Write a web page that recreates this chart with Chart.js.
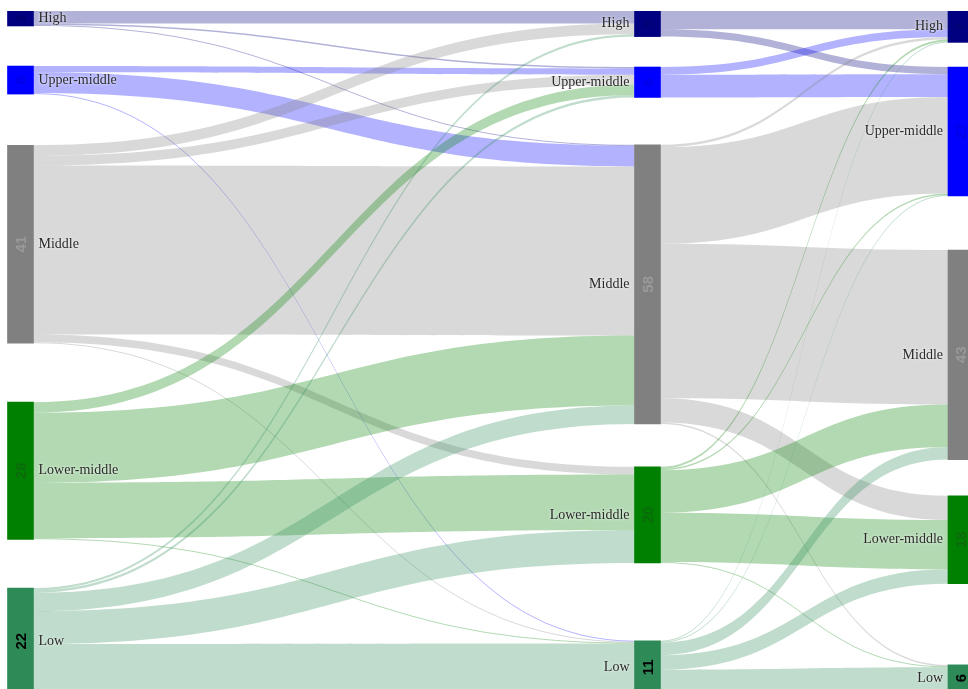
<!DOCTYPE html>
<html>
<head>
<meta charset="utf-8">
<title>Income class mobility</title>
<script src="https://cdn.jsdelivr.net/npm/chart.js@4/dist/chart.umd.min.js"></script>
<style>
  body { margin: 0; background: #fff; }
  canvas { display: block; }
</style>
</head>
<body>
<canvas id="canvas" width="968" height="689"></canvas>
<script>
const classes = ['High', 'Upper-middle', 'Middle', 'Lower-middle', 'Low'];

// flows from the first stage (rows) into the second stage (columns)
const flowsAB = [
  [2.6, 0.3, 0.2, 0, 0],
  [0, 1.3, 4.3, 0, 0.2],
  [2.2, 2, 35, 1.6, 0.2],
  [0, 2.2, 14.5, 11.5, 0.2],
  [0.5, 0.5, 3.8, 6.8, 10.4]
];

// flows from the second stage (rows) into the third stage (columns)
const flowsBC = [
  [3.8, 1.5, 0, 0, 0],
  [1.6, 4.7, 0, 0, 0],
  [0.5, 20, 32, 5, 0.3],
  [0.4, 0.3, 8.8, 10.2, 0.2],
  [0.2, 0.2, 2.6, 3, 5]
];

// layout: where each stage sits on the x axis, and the space left above each node
const stageX = [0, 2, 3];
const gaps = [
  [0, 8.3, 10.6, 12.2, 10.1],
  [0, 6.3, 9.8, 8.9, 16.1],
  [0, 5.1, 11.2, 7.5, 16.8]
];

const nodeColors = ['#000080', '#0000ff', '#808080', '#008000', '#2e8b57'];
const linkColors = ['rgba(0,0,128,0.3)', 'rgba(0,0,255,0.3)', 'rgba(128,128,128,0.3)', 'rgba(0,128,0,0.3)', 'rgba(46,139,87,0.3)'];
const numberColors = ['#000072', '#0000e6', '#999999', '#0b6b0b', '#000000'];
const NODE_W = 26;

const sum = arr => arr.reduce((a, v) => a + v, 0);
const colSum = (m, j) => m.reduce((a, row) => a + row[j], 0);

const totals = [
  flowsAB.map(row => sum(row)),
  classes.map((c, j) => colSum(flowsAB, j)),
  classes.map((c, j) => colSum(flowsBC, j))
];

// stack nodes of each stage top to bottom in value units
const tops = totals.map((col, s) => {
  let y = 0;
  return col.map((v, i) => {
    y += gaps[s][i];
    const top = y;
    y += v;
    return top;
  });
});

const datasets = classes.map((name, i) => ({
  label: name,
  data: stageX.map((x, s) => ({ x: x, y: [tops[s][i], tops[s][i] + totals[s][i]] })),
  backgroundColor: nodeColors[i],
  borderWidth: 0,
  borderSkipped: false,
  grouped: false,
  barThickness: NODE_W
}));

function drawLinks(ctx, xs, ys, matrix, s) {
  const srcOff = tops[s].slice();
  const dstOff = tops[s + 1].slice();
  const x0 = xs.getPixelForValue(stageX[s]) + NODE_W / 2;
  const x1 = xs.getPixelForValue(stageX[s + 1]) - NODE_W / 2;
  const xm = (x0 + x1) / 2;
  matrix.forEach((row, i) => {
    row.forEach((v, j) => {
      if (!v) return;
      const sy0 = ys.getPixelForValue(srcOff[i]);
      const sy1 = ys.getPixelForValue(srcOff[i] + v);
      const ty0 = ys.getPixelForValue(dstOff[j]);
      const ty1 = ys.getPixelForValue(dstOff[j] + v);
      srcOff[i] += v;
      dstOff[j] += v;
      ctx.beginPath();
      ctx.moveTo(x0, sy0);
      ctx.bezierCurveTo(xm, sy0, xm, ty0, x1, ty0);
      ctx.lineTo(x1, ty1);
      ctx.bezierCurveTo(xm, ty1, xm, sy1, x0, sy1);
      ctx.closePath();
      ctx.fillStyle = linkColors[i];
      ctx.fill();
    });
  });
}

const sankeyLinks = {
  id: 'sankeyLinks',
  beforeDatasetsDraw(chart) {
    const { ctx, scales: { x, y } } = chart;
    ctx.save();
    drawLinks(ctx, x, y, flowsAB, 0);
    drawLinks(ctx, x, y, flowsBC, 1);
    ctx.restore();
  }
};

const sankeyLabels = {
  id: 'sankeyLabels',
  afterDatasetsDraw(chart) {
    const { ctx, scales: { x, y } } = chart;
    ctx.save();
    totals.forEach((col, s) => {
      const cx = x.getPixelForValue(stageX[s]);
      col.forEach((v, i) => {
        const cy = (y.getPixelForValue(tops[s][i]) + y.getPixelForValue(tops[s][i] + v)) / 2;
        // class name beside the node
        ctx.font = '14px "Liberation Serif", "Times New Roman", serif';
        ctx.fillStyle = '#2a2a2a';
        ctx.textBaseline = 'middle';
        ctx.shadowColor = 'rgba(255,255,255,0.9)';
        ctx.shadowBlur = 3;
        if (s === 0) {
          ctx.textAlign = 'left';
          ctx.fillText(classes[i], cx + NODE_W / 2 + 5, cy);
        } else {
          ctx.textAlign = 'right';
          ctx.fillText(classes[i], cx - NODE_W / 2 - 5, cy);
        }
        ctx.shadowBlur = 0;
        // node total, turned on its side inside the node
        ctx.save();
        ctx.translate(cx, cy);
        ctx.rotate(-Math.PI / 2);
        ctx.textAlign = 'center';
        ctx.font = 'bold 15px "Liberation Sans", Arial, sans-serif';
        ctx.fillStyle = numberColors[i];
        ctx.fillText(String(Math.round(v)), 0, 1);
        ctx.restore();
      });
    });
    ctx.restore();
  }
};

new Chart(document.getElementById('canvas'), {
  type: 'bar',
  data: { datasets: datasets },
  options: {
    responsive: false,
    animation: false,
    layout: { padding: { top: 11, bottom: 0, left: 0, right: 0 } },
    scales: {
      x: {
        type: 'linear',
        min: -20.5 / 313.5,
        max: (968 - 20.5) / 313.5,
        offset: false,
        display: false
      },
      y: {
        reverse: true,
        min: 0,
        max: 140.4,
        display: false
      }
    },
    plugins: {
      legend: { display: false },
      tooltip: { enabled: false }
    }
  },
  plugins: [sankeyLinks, sankeyLabels]
});
</script>
</body>
</html>
